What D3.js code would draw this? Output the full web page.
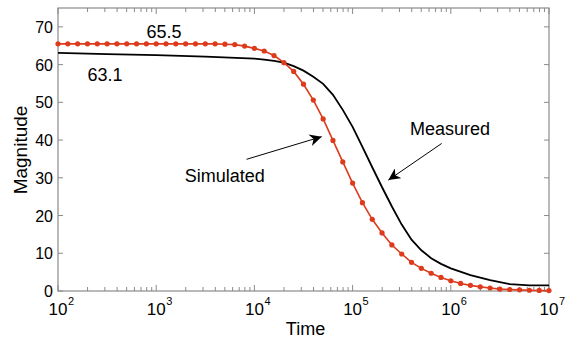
<!DOCTYPE html>
<html>
<head>
<meta charset="utf-8">
<script src="https://d3js.org/d3.v7.min.js"></script>
<style>
  body { margin: 0; background: #fff; }
  svg { font-family: "Liberation Sans", Arial, sans-serif; }
</style>
</head>
<body>
<div class="chart"></div>
<script>
// simulated curve, sampled every 0.1 decade from 10^2 to 10^7
var simExp = [2.0, 2.1, 2.2, 2.3, 2.4, 2.5, 2.6, 2.7, 2.8, 2.9,
  3.0, 3.1, 3.2, 3.3, 3.4, 3.5, 3.6, 3.7, 3.8, 3.9,
  4.0, 4.1, 4.2, 4.3, 4.4, 4.5, 4.6, 4.7, 4.8, 4.9,
  5.0, 5.1, 5.2, 5.3, 5.4, 5.5, 5.6, 5.7, 5.8, 5.9,
  6.0, 6.1, 6.2, 6.3, 6.4, 6.5, 6.6, 6.7, 6.8, 6.9, 7.0];
var simValues = [65.5, 65.5, 65.5, 65.5, 65.5, 65.5, 65.5, 65.5, 65.5, 65.5,
  65.5, 65.5, 65.5, 65.5, 65.5, 65.5, 65.5, 65.4, 65.3, 64.9,
  64.3, 63.6, 62.4, 60.5, 58.2, 54.8, 50.6, 45.6, 39.9, 34.2,
  28.6, 23.4, 19.0, 15.4, 12.2, 9.8, 7.6, 6.0, 4.7, 3.6,
  2.7, 2.0, 1.5, 1.1, 0.8, 0.5, 0.4, 0.3, 0.2, 0.15, 0.1];

// measured curve
var measExp = [2.0, 2.5, 3.0, 3.5, 4.0, 4.1, 4.2, 4.3, 4.4, 4.5,
  4.6, 4.7, 4.8, 4.9, 5.0, 5.1, 5.2, 5.3, 5.4, 5.5,
  5.6, 5.7, 5.8, 5.9, 6.0, 6.2, 6.4, 6.6, 6.8, 7.0];
var measValues = [63.1, 62.8, 62.5, 62.1, 61.6, 61.3, 61.0, 60.5, 59.6, 58.4,
  56.8, 54.9, 52.0, 48.0, 43.5, 38.2, 32.8, 27.5, 22.4, 17.6,
  13.6, 10.8, 8.7, 7.2, 6.0, 4.2, 2.9, 1.8, 1.5, 1.5];

var xTickExp = [2, 3, 4, 5, 6, 7];
var yTicks = [0, 10, 20, 30, 40, 50, 60, 70];

// annotations: [log10 time, magnitude]
var notes = [
  { text: "65.5", at: [2.9, 67.1] },
  { text: "63.1", at: [2.3, 55.7] },
  { text: "Simulated", at: [3.29, 28.9] },
  { text: "Measured", at: [5.585, 41.3] }
];
var arrows = [
  { from: [3.92, 34.9], to: [4.685, 40.9] },
  { from: [5.907, 39.1], to: [5.364, 29.4] }
];

function init() {
  var w = 568;
  var h = 341;
  var margin = { top: 8, right: 19, bottom: 50, left: 58 };
  var axisGray = "#8a8a8a";
  var red = "#dd3b1c";

  var svg = d3.select(".chart")
    .append("svg")
    .attr("width", w)
    .attr("height", h);

  var xScale = d3.scaleLog()
    .domain([1e2, 1e7])
    .range([margin.left, w - margin.right]);

  var yScale = d3.scaleLinear()
    .domain([0, 75])
    .range([h - margin.bottom, margin.top]);

  var x0 = margin.left, x1 = w - margin.right;
  var y0 = h - margin.bottom, y1 = margin.top;

  var simData = simExp.map(function(e, i) {
    return { t: Math.pow(10, e), v: simValues[i] };
  });
  var measData = measExp.map(function(e, i) {
    return { t: Math.pow(10, e), v: measValues[i] };
  });

  // box
  svg.append("rect")
    .attr("x", x0)
    .attr("y", y1)
    .attr("width", x1 - x0)
    .attr("height", y0 - y1)
    .attr("fill", "none")
    .attr("stroke", axisGray)
    .attr("stroke-width", 1.2);

  // x ticks (major + minor, bottom and top, pointing in)
  var xMinor = [];
  for (var k = 2; k < 7; k++) {
    for (var m = 2; m <= 9; m++) xMinor.push(m * Math.pow(10, k));
  }
  var ticks = svg.append("g").attr("stroke", axisGray).attr("stroke-width", 1);
  xMinor.forEach(function(t) {
    var px = xScale(t);
    ticks.append("line").attr("x1", px).attr("x2", px).attr("y1", y0).attr("y2", y0 - 4);
    ticks.append("line").attr("x1", px).attr("x2", px).attr("y1", y1).attr("y2", y1 + 4);
  });
  xTickExp.forEach(function(e) {
    var px = xScale(Math.pow(10, e));
    ticks.append("line").attr("x1", px).attr("x2", px).attr("y1", y0).attr("y2", y0 - 6);
    ticks.append("line").attr("x1", px).attr("x2", px).attr("y1", y1).attr("y2", y1 + 6);
  });
  yTicks.forEach(function(v) {
    var py = yScale(v);
    ticks.append("line").attr("x1", x0).attr("x2", x0 + 5).attr("y1", py).attr("y2", py);
    ticks.append("line").attr("x1", x1).attr("x2", x1 - 5).attr("y1", py).attr("y2", py);
  });

  // tick labels
  svg.selectAll(".ylab")
    .data(yTicks)
    .enter()
    .append("text")
    .attr("class", "ylab")
    .attr("x", x0 - 5)
    .attr("y", function(d) { return yScale(d) + 6; })
    .attr("text-anchor", "end")
    .attr("font-size", "16px")
    .text(function(d) { return d; });

  var xl = svg.selectAll(".xlab")
    .data(xTickExp)
    .enter()
    .append("g")
    .attr("class", "xlab")
    .attr("transform", function(d) {
      return "translate(" + xScale(Math.pow(10, d)) + "," + (y0 + 24) + ")";
    });
  xl.append("text")
    .attr("x", 0)
    .attr("y", 0)
    .attr("text-anchor", "middle")
    .attr("font-size", "17px")
    .text("10");
  xl.append("text")
    .attr("x", 10)
    .attr("y", -10)
    .attr("font-size", "11px")
    .text(function(d) { return d; });

  // axis titles
  svg.append("text")
    .attr("x", (x0 + x1) / 2 + 2)
    .attr("y", h - 6)
    .attr("text-anchor", "middle")
    .attr("font-size", "18px")
    .text("Time");

  svg.append("text")
    .attr("transform", "rotate(-90)")
    .attr("x", -150)
    .attr("y", 27)
    .attr("text-anchor", "middle")
    .attr("font-size", "19px")
    .text("Magnitude");

  var line = d3.line()
    .x(function(d) { return xScale(d.t); })
    .y(function(d) { return yScale(d.v); });

  svg.append("path")
    .datum(measData)
    .attr("fill", "none")
    .attr("stroke", "#000")
    .attr("stroke-width", 1.8)
    .attr("d", line);

  svg.append("path")
    .datum(simData)
    .attr("fill", "none")
    .attr("stroke", red)
    .attr("stroke-width", 1.6)
    .attr("d", line);

  svg.selectAll(".dot")
    .data(simData)
    .enter()
    .append("circle")
    .attr("class", "dot")
    .attr("cx", function(d) { return xScale(d.t); })
    .attr("cy", function(d) { return yScale(d.v); })
    .attr("r", 2.6)
    .attr("fill", red);

  // annotations
  svg.selectAll(".note")
    .data(notes)
    .enter()
    .append("text")
    .attr("class", "note")
    .attr("x", function(d) { return xScale(Math.pow(10, d.at[0])); })
    .attr("y", function(d) { return yScale(d.at[1]); })
    .attr("font-size", "18px")
    .text(function(d) { return d.text; });

  svg.append("defs").append("marker")
    .attr("id", "head")
    .attr("viewBox", "0 0 10 10")
    .attr("refX", 10)
    .attr("refY", 5)
    .attr("markerWidth", 12)
    .attr("markerHeight", 12)
    .attr("markerUnits", "userSpaceOnUse")
    .attr("orient", "auto")
    .append("path")
    .attr("d", "M0,0 L10,5 L0,10 L3,5 Z")
    .attr("fill", "#000");

  svg.selectAll(".arrow")
    .data(arrows)
    .enter()
    .append("line")
    .attr("class", "arrow")
    .attr("x1", function(d) { return xScale(Math.pow(10, d.from[0])); })
    .attr("y1", function(d) { return yScale(d.from[1]); })
    .attr("x2", function(d) { return xScale(Math.pow(10, d.to[0])); })
    .attr("y2", function(d) { return yScale(d.to[1]); })
    .attr("stroke", "#000")
    .attr("stroke-width", 1)
    .attr("marker-end", "url(#head)");
}

window.onload = init;
</script>
</body>
</html>
